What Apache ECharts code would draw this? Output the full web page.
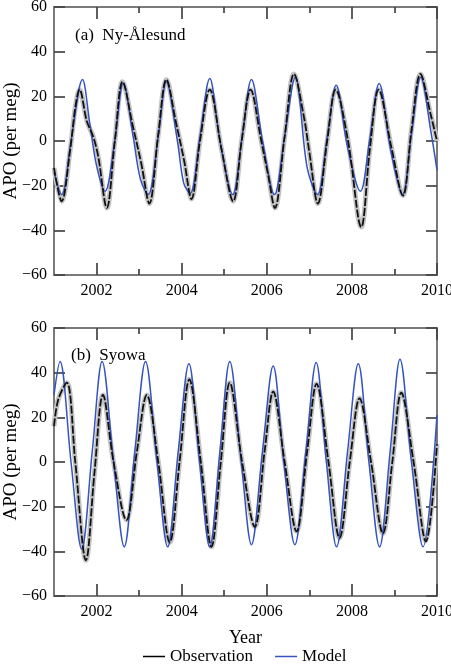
<!DOCTYPE html>
<html>
<head>
<meta charset="utf-8">
<script src="https://cdn.jsdelivr.net/npm/echarts@6/dist/echarts.min.js"></script>
<style>
  html, body { margin: 0; padding: 0; background: #fff; }
  #chart { width: 451px; height: 670px; }
</style>
</head>
<body>
<div id="chart"></div>
<script>
// (a) Ny-Alesund: observation and model, decimal year / per meg
var obsA_t = [2001.00, 2001.18, 2001.38, 2001.50, 2001.60, 2001.77, 2001.92, 2002.04, 2002.24, 2002.43, 2002.61, 2002.86, 2003.05, 2003.24, 2003.45, 2003.64, 2003.87, 2004.06, 2004.23, 2004.43, 2004.66, 2004.94, 2005.21, 2005.41, 2005.62, 2005.87, 2006.03, 2006.19, 2006.42, 2006.64, 2006.88, 2007.00, 2007.20, 2007.42, 2007.62, 2007.91, 2008.22, 2008.42, 2008.63, 2008.93, 2009.20, 2009.40, 2009.61, 2009.85, 2010.00];
var obsA_v = [-12, -27, -4, 15, 23, 9, 2, -7, -30, 0, 26.5, 6, -10, -28, 3, 27.5, 8, -9, -26, 0, 23, -4, -27, 0, 23, 0, -15, -30, 2, 30, 10, -5, -28, 0, 23, 0, -38.5, -4, 23, -3, -24.5, 5, 30, 12, 0];
var modA_t = [2001.00, 2001.18, 2001.40, 2001.67, 2001.84, 2002.00, 2002.20, 2002.42, 2002.63, 2002.86, 2003.03, 2003.21, 2003.45, 2003.64, 2003.90, 2004.05, 2004.20, 2004.43, 2004.66, 2004.90, 2005.20, 2005.42, 2005.64, 2005.90, 2006.18, 2006.42, 2006.67, 2006.95, 2007.19, 2007.42, 2007.63, 2007.90, 2008.20, 2008.42, 2008.64, 2008.92, 2009.19, 2009.40, 2009.62, 2009.85, 2010.00];
var modA_v = [-14, -24, 0, 27.5, 8, -11, -22.5, -1, 26, 2, -17, -24, 2, 26.5, 0, -19, -23.5, 2, 28, 0, -24, 2, 27.5, 0, -24, 2, 28.5, -12, -24, 2, 25, -3, -22.5, 1, 25.7, -5, -24, 3, 28.5, 5, -13];

// (b) Syowa
var obsB_t = [2001.00, 2001.10, 2001.30, 2001.50, 2001.75, 2001.95, 2002.15, 2002.40, 2002.70, 2002.95, 2003.18, 2003.45, 2003.72, 2003.95, 2004.18, 2004.45, 2004.70, 2004.92, 2005.13, 2005.42, 2005.72, 2005.95, 2006.15, 2006.42, 2006.70, 2006.95, 2007.17, 2007.45, 2007.71, 2007.95, 2008.18, 2008.45, 2008.73, 2008.95, 2009.16, 2009.45, 2009.74, 2010.00];
var obsB_v = [16, 28, 35.5, 0, -44, -5, 30, 0, -26, 5, 30, 0, -36, 0, 37, 0, -38, 0, 35.5, 0, -29, 5, 31.5, 0, -31, 5, 35, 0, -34, 0, 28.5, 0, -32, 0, 31, 0, -35.5, 8];
var modB_t = [2001.00, 2001.14, 2001.40, 2001.65, 2001.90, 2002.13, 2002.40, 2002.65, 2002.90, 2003.15, 2003.42, 2003.67, 2003.92, 2004.17, 2004.42, 2004.66, 2004.90, 2005.13, 2005.40, 2005.64, 2005.90, 2006.15, 2006.40, 2006.66, 2006.92, 2007.16, 2007.40, 2007.64, 2007.90, 2008.15, 2008.40, 2008.65, 2008.90, 2009.13, 2009.40, 2009.67, 2010.00];
var modB_v = [30, 45, 0, -39, 5, 45, 0, -38, 5, 45, 0, -38, 5, 44, 0, -38, 5, 45, 0, -37, 5, 43, 0, -37, 5, 44.5, 0, -38, 5, 44, 0, -38, 5, 46, 0, -38, 21];

var majorYears = [2002, 2004, 2006, 2008, 2010];
var minorYears = [2003, 2005, 2007, 2009];
var panelNames = ['(a)  Ny-\u00c5lesund', '(b)  Syowa'];

var FONT = 'Liberation Serif';
var FRAME = '#7a7a7a';
var TICK = '#444';

function zip(t, v) {
    var out = [];
    for (var i = 0; i < t.length; i++) out.push([t[i], v[i]]);
    return out;
}

function xAxesFor(gi, withName) {
    var base = { type: 'value', gridIndex: gi, min: 2001, max: 2010, splitLine: { show: false } };
    var tick = function (vals, len) {
        return { show: true, inside: true, length: len, customValues: vals, lineStyle: { color: TICK, width: 1.7 } };
    };
    return [
        Object.assign({}, base, {
            position: 'bottom',
            name: withName ? 'Year' : '',
            nameLocation: 'middle',
            nameGap: 33,
            nameMoveOverlap: false,
            nameTextStyle: { fontFamily: FONT, fontSize: 18, color: '#000' },
            axisLine: { show: true, onZero: false, lineStyle: { color: FRAME, width: 2 } },
            axisTick: tick(majorYears, 12),
            axisLabel: {
                show: true, customValues: majorYears, fontFamily: FONT, fontSize: 16, color: '#000', margin: 8,
                formatter: function (v) { return String(Math.round(v)); }
            }
        }),
        Object.assign({}, base, {
            position: 'bottom',
            axisLine: { show: false, onZero: false },
            axisTick: tick(minorYears, 6),
            axisLabel: { show: false }
        }),
        Object.assign({}, base, {
            position: 'top',
            axisLine: { show: true, onZero: false, lineStyle: { color: FRAME, width: 2 } },
            axisTick: tick(majorYears, 12),
            axisLabel: { show: false }
        }),
        Object.assign({}, base, {
            position: 'top',
            axisLine: { show: false, onZero: false },
            axisTick: tick(minorYears, 6),
            axisLabel: { show: false }
        })
    ];
}

function yAxesFor(gi) {
    var base = {
        type: 'value', gridIndex: gi, min: -60, max: 60, interval: 20,
        splitLine: { show: false },
        axisLine: { show: true, onZero: false, lineStyle: { color: FRAME, width: 2 } },
        axisTick: { show: true, inside: true, length: 11, lineStyle: { color: TICK, width: 1.7 } }
    };
    return [
        Object.assign({}, base, {
            position: 'left',
            name: 'APO (per meg)',
            nameLocation: 'middle',
            nameGap: 33,
            nameMoveOverlap: false,
            nameTextStyle: { fontFamily: FONT, fontSize: 19, color: '#000' },
            axisLabel: {
                fontFamily: FONT, fontSize: 16, color: '#000', margin: 7,
                formatter: function (v) { return v < 0 ? '\u2212' + Math.abs(v) : '' + v; }
            }
        }),
        Object.assign({}, base, {
            position: 'right',
            axisLabel: { show: false }
        })
    ];
}

function panelSeries(gi, obs, mod) {
    var xi = gi * 4, yi = gi * 2;
    return [{
        name: 'obs-band', type: 'line', xAxisIndex: xi, yAxisIndex: yi,
        data: obs, smooth: 0.35, symbol: 'none', silent: true,
        lineStyle: { color: '#c2c2c2', width: 5 }, z: 1
    }, {
        name: 'Model', type: 'line', xAxisIndex: xi, yAxisIndex: yi,
        data: mod, smooth: 0.35, symbol: 'none', color: '#3553c2',
        lineStyle: { color: '#3553c2', width: 1.5 }, z: 2
    }, {
        name: 'Observation', type: 'line', xAxisIndex: xi, yAxisIndex: yi,
        data: obs, smooth: 0.35, symbol: 'none', color: '#000',
        lineStyle: { color: '#111', width: 1.8, type: [8, 2] }, z: 3
    }];
}

var myChart = echarts.init(document.getElementById('chart'));

var option = {
    animation: false,
    backgroundColor: '#fff',
    textStyle: { fontFamily: FONT },
    title: [
        { text: panelNames[0], left: 70, top: 22, textStyle: { fontFamily: FONT, fontSize: 17, fontWeight: 'normal', color: '#000' } },
        { text: panelNames[1], left: 66, top: 342, textStyle: { fontFamily: FONT, fontSize: 17, fontWeight: 'normal', color: '#000' } }
    ],
    legend: {
        data: ['Observation', 'Model'],
        bottom: 0,
        left: 138,
        icon: 'rect',
        itemWidth: 22,
        itemHeight: 1.5,
        itemGap: 22,
        textStyle: { fontFamily: FONT, fontSize: 17, color: '#000' }
    },
    grid: [
        { left: 54, top: 7, width: 383, height: 268, outerBoundsMode: 'none' },
        { left: 54, top: 328, width: 383, height: 268, outerBoundsMode: 'none' }
    ],
    xAxis: xAxesFor(0, false).concat(xAxesFor(1, true)),
    yAxis: yAxesFor(0).concat(yAxesFor(1)),
    series: panelSeries(0, zip(obsA_t, obsA_v), zip(modA_t, modA_v))
        .concat(panelSeries(1, zip(obsB_t, obsB_v), zip(modB_t, modB_v)))
};

myChart.setOption(option);

window.addEventListener('resize', function () {
    myChart.resize();
});
</script>
</body>
</html>
